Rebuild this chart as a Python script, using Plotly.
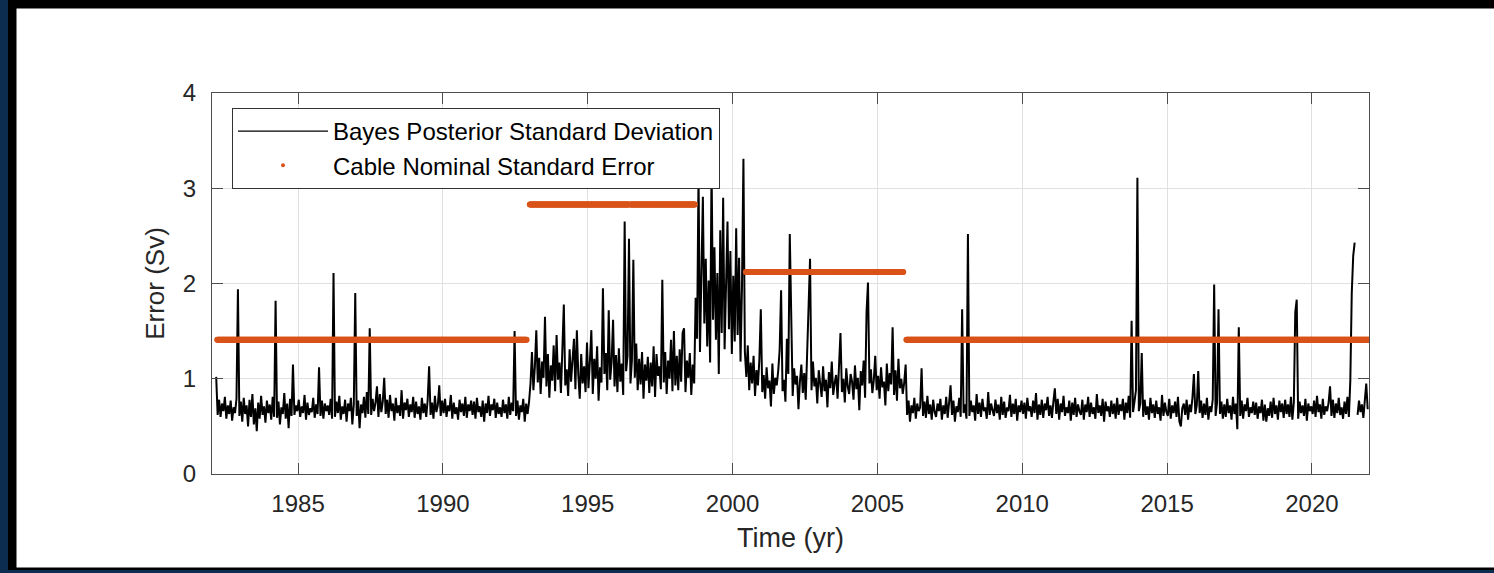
import numpy as np
import plotly.graph_objects as go

N = None
# Bayes posterior standard deviation (Sv), in hundredths of Sv.
# One row per calendar year, 20 samples per year at t = year + 0.025 + 0.05*j
bayes_first_year = 1982
bayes_sd_centi = [
    # 1982
    N, N, N, 102, 62, 78, 60, 74, 66, 81, 58, 72, 63, 77, 56, 70, 64, 79, 194, 61,
    # 1983
    76, 55, 80, 63, 72, 50, 78, 60, 84, 52, 69, 45, 75, 58, 82, 62, 71, 54, 77, 64,
    # 1984
    73, 57, 81, 60, 182, 59, 76, 52, 70, 63, 85, 58, 74, 48, 79, 61, 115, 62, 72, 66,
    # 1985
    78, 60, 71, 64, 83, 57, 75, 62, 69, 65, 80, 59, 73, 63, 112, 61, 77, 58, 74, 66,
    # 1986
    72, 62, 79, 58, 211, 60, 76, 64, 82, 57, 71, 63, 78, 55, 74, 66, 80, 52, 73, 190,
    # 1987
    61, 77, 48, 73, 64, 81, 59, 86, 63, 153, 62, 79, 66, 75, 92, 60, 84, 65, 76, 101,
    # 1988
    63, 78, 59, 83, 66, 74, 56, 80, 64, 72, 61, 88, 58, 75, 67, 79, 60, 73, 65, 81,
    # 1989
    59, 76, 63, 71, 57, 80, 64, 74, 60, 78, 113, 62, 75, 58, 82, 65, 72, 93, 61, 77,
    # 1990
    64, 79, 60, 72, 66, 83, 58, 75, 63, 70, 57, 78, 65, 74, 61, 81, 59, 73, 66, 77,
    # 1991
    62, 76, 58, 80, 65, 71, 60, 77, 55, 74, 64, 82, 61, 73, 67, 79, 59, 75, 63, 70,
    # 1992
    60, 78, 64, 73, 58, 81, 62, 75, 66, 150, 61, 77, 57, 72, 65, 79, 55, 74, 63, 76,
    # 1993
    95, 128, 88, 112, 151, 96, 122, 84, 118, 101, 165, 92, 126, 80, 114, 98, 135, 87, 146, 99,
    # 1994
    117, 85, 124, 178, 93, 110, 82, 131, 97, 120, 142, 89, 151, 104, 79, 126, 95, 113, 86, 138,
    # 1995
    90, 118, 151, 84, 121, 100, 134, 77, 112, 96, 195, 105, 127, 88, 172, 99, 118, 162, 92, 125,
    # 1996
    86, 132, 97, 116, 83, 265, 108, 124, 247, 95, 119, 225, 101, 137, 88, 121, 94, 128, 79, 115,
    # 1997
    98, 123, 85, 117, 92, 134, 81, 126, 103, 113, 89, 204, 96, 128, 84, 119, 100, 141, 87, 150,
    # 1998
    93, 124, 88, 131, 97, 148, 153, 86, 119, 101, 127, 83, 115, 95, 185, 142, 315, 128, 221, 291,
    # 1999
    158, 226, 134, 203, 117, 325, 162, 238, 141, 211, 105, 256, 148, 290, 131, 219, 265, 152, 234, 126,
    # 2000
    208, 139, 258, 146, 227, 118, 196, 331, 128, 102, 135, 88, 117, 95, 124, 82, 109, 93, 120, 173,
    # 2001
    86, 104, 79, 112, 90, 98, 71, 116, 84, 101, 93, 108, 130, 193, 87, 99, 76, 142, 105, 252,
    # 2002
    160, 82, 111, 94, 103, 68, 97, 115, 85, 106, 78, 122, 163, 226, 88, 118, 92, 101, 74, 109,
    # 2003
    95, 81, 113, 87, 99, 70, 107, 90, 118, 83, 96, 104, 79, 120, 148, 86, 100, 75, 111, 92,
    # 2004
    84, 105, 97, 78, 114, 89, 101, 67, 108, 93, 119, 80, 170, 201, 95, 110, 85, 98, 124, 88,
    # 2005
    103, 79, 112, 91, 97, 72, 116, 87, 106, 94, 154, 83, 109, 77, 121, 90, 100, 84, 96, 115,
    # 2006
    62, 77, 55, 72, 64, 80, 58, 74, 66, 70, 111, 61, 76, 59, 82, 63, 73, 57, 78, 65,
    # 2007
    60, 74, 66, 79, 57, 72, 63, 81, 59, 75, 93, 62, 77, 55, 71, 65, 80, 60, 173, 64,
    # 2008
    73, 58, 252, 61, 77, 65, 72, 56, 84, 63, 75, 60, 79, 66, 70, 58, 86, 62, 74, 67,
    # 2009
    61, 78, 64, 73, 57, 81, 62, 76, 59, 70, 66, 83, 60, 74, 63, 79, 56, 72, 65, 77,
    # 2010
    63, 75, 58, 80, 66, 71, 60, 77, 64, 85, 57, 73, 62, 78, 59, 74, 67, 81, 61, 72,
    # 2011
    59, 76, 90, 63, 79, 57, 74, 65, 82, 61, 70, 64, 77, 56, 75, 62, 80, 60, 73, 66,
    # 2012
    62, 78, 57, 73, 65, 81, 60, 75, 63, 70, 58, 84, 64, 72, 61, 79, 55, 76, 66, 71,
    # 2013
    60, 77, 63, 74, 58, 80, 62, 73, 66, 79, 57, 75, 64, 82, 59, 161, 65, 76, 88, 311,
    # 2014
    66, 74, 127, 60, 78, 62, 71, 57, 80, 64, 73, 59, 77, 63, 70, 56, 83, 61, 75, 65,
    # 2015
    61, 79, 58, 72, 64, 76, 60, 81, 55, 50, 69, 74, 62, 78, 57, 73, 65, 80, 105, 63,
    # 2016
    72, 108, 64, 77, 59, 74, 62, 80, 57, 71, 65, 78, 199, 61, 75, 173, 63, 76, 58, 73,
    # 2017
    60, 79, 64, 72, 57, 81, 63, 74, 47, 154, 61, 77, 58, 73, 66, 80, 60, 70, 64, 76,
    # 2018
    62, 75, 58, 71, 64, 78, 56, 73, 55, 69, 61, 76, 59, 80, 63, 72, 57, 77, 65, 74,
    # 2019
    59, 78, 63, 73, 60, 81, 57, 75, 170, 183, 58, 76, 64, 72, 61, 79, 56, 74, 66, 71,
    # 2020
    63, 77, 60, 82, 65, 73, 58, 79, 62, 71, 66, 75, 92, 61, 78, 59, 74, 64, 80, 62,
    # 2021
    70, 58, 76, 63, 81, 60, 98, 190, 229, 243, N, 62, 77, 65, 73, 59, 79, 95, 68, N,
]
samples_per_year = 20

# Cable nominal standard error (Sv): constant levels over time segments
cable_seg_start = [1982.21, 1993.00, 1996.48, 2000.46, 2001.94, 2004.73, 2006.00]
cable_seg_end = [1992.90, 1996.42, 1998.70, 2001.88, 2004.67, 2005.90, 2021.97]
cable_seg_value = [1.41, 2.83, 2.83, 2.12, 2.12, 2.12, 1.41]
cable_step = 0.02

x_ticks = [1985, 1990, 1995, 2000, 2005, 2010, 2015, 2020]
y_ticks = [0, 1, 2, 3, 4]

# ---- derived arrays ----
bayes_t = [bayes_first_year + (i + 0.5) / samples_per_year for i in range(len(bayes_sd_centi))]
bayes_v = [None if v is None else v / 100.0 for v in bayes_sd_centi]

cable_t, cable_v = [], []
for s, e, v in zip(cable_seg_start, cable_seg_end, cable_seg_value):
    ts = np.arange(s, e + 1e-9, cable_step)
    cable_t.extend(ts.tolist())
    cable_v.extend([v] * len(ts))

W, H = 1494, 573
L, R, T, B = 212, 1369, 93, 474
pw, ph = R - L, B - T


def px(x):
    return (x - L) / pw


def py(y):
    return (B - y) / ph


FONT = "Liberation Sans, Arial, Helvetica, sans-serif"
TXT = "#262626"
ORANGE = "#D95319"

fig = go.Figure()
fig.add_trace(go.Scatter(
    x=bayes_t, y=bayes_v, mode="lines", name="Bayes Posterior Standard Deviation",
    line=dict(color="black", width=2), connectgaps=False, hoverinfo="skip",
    showlegend=False))
fig.add_trace(go.Scatter(
    x=cable_t, y=cable_v, mode="markers", name="Cable Nominal Standard Error",
    marker=dict(color=ORANGE, size=6, line=dict(width=0)), showlegend=False, hoverinfo="skip"))
# legend entries drawn with the thin line and small dot used in the legend
fig.add_trace(go.Scatter(
    x=[None], y=[None], mode="lines", name="Bayes Posterior Standard Deviation",
    line=dict(color="black", width=1.2)))
fig.add_trace(go.Scatter(
    x=[None], y=[None], mode="markers", name="Cable Nominal Standard Error",
    marker=dict(color=ORANGE, size=4)))

shapes = [
    dict(type="rect", xref="paper", yref="paper", layer="below",
         x0=px(8), x1=px(W + 2), y0=py(-2), y1=py(570),
         fillcolor="black", line=dict(width=0)),
    dict(type="rect", xref="paper", yref="paper", layer="below",
         x0=px(16.5), x1=px(W + 2), y0=py(8.5), y1=py(567.5),
         fillcolor="white", line=dict(width=0)),
]

axis_common = dict(
    showline=True, linecolor="#4d4d4d", linewidth=1, mirror="ticks",
    ticks="inside", ticklen=11, tickcolor="#4d4d4d", tickwidth=1,
    showgrid=True, gridcolor="#e0e0e0", gridwidth=1, zeroline=False,
    tickfont=dict(family=FONT, size=24, color=TXT),
)

fig.update_layout(
    width=W, height=H,
    margin=dict(l=L, r=W - R, t=T, b=H - B, autoexpand=False),
    paper_bgcolor="#0d2d50", plot_bgcolor="white",
    shapes=shapes,
    showlegend=True,
    legend=dict(x=px(232), y=py(108), xanchor="left", yanchor="top",
                bgcolor="white", bordercolor="#333333", borderwidth=1,
                font=dict(family=FONT, size=24, color="black"),
                itemwidth=90, tracegroupgap=0, traceorder="normal"),
    xaxis=dict(range=[1982.03, 2021.97], tickvals=x_ticks,
               ticktext=[str(t) for t in x_ticks], ticklabelstandoff=8,
               title=dict(text="Time (yr)", font=dict(family=FONT, size=27, color=TXT), standoff=12),
               **axis_common),
    yaxis=dict(range=[0, 4], tickvals=y_ticks, ticktext=[str(t) for t in y_ticks],
               ticklabelstandoff=10,
               title=dict(text="Error (Sv)", font=dict(family=FONT, size=26, color=TXT), standoff=10),
               **axis_common),
)

fig.write_html("out.html", config={"displayModeBar": False},
               post_script="document.body.style.margin='0px';document.body.style.overflow='hidden';")
